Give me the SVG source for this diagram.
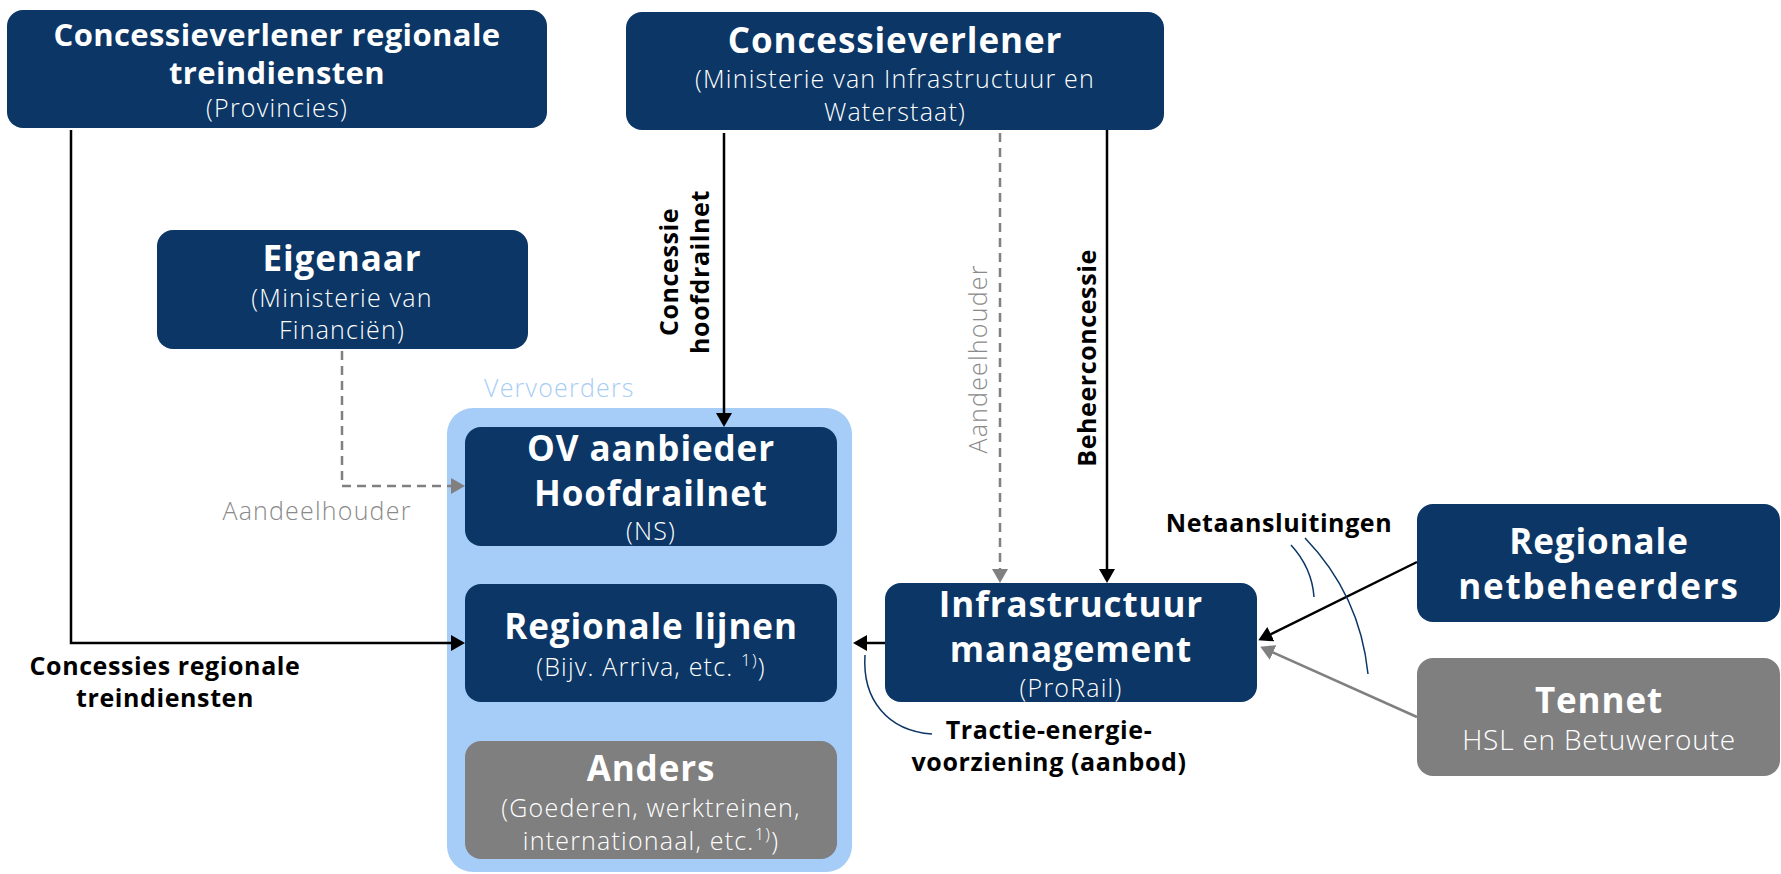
<svg xmlns="http://www.w3.org/2000/svg" width="1781" height="874" viewBox="0 0 1781 874">
  <style>
    text { font-family: 'Open Sans', 'Liberation Sans', sans-serif; }
    .navy { fill: #0b3665; }
    .grey { fill: #7f7f7f; }
    .t { fill: #ffffff; text-anchor: middle; font-weight: 700; font-size: 35px; letter-spacing: 0.9px; }
    .s { fill: #ffffff; text-anchor: middle; font-weight: 300; font-size: 25px; letter-spacing: 1.2px; }
    .lbl { fill: #000000; text-anchor: middle; font-weight: 700; font-size: 25px; letter-spacing: 0.6px; }
    .glbl { fill: #8a8a8a; text-anchor: middle; font-weight: 300; font-size: 25px; letter-spacing: 1.2px; }
    .ln { fill: none; stroke: #000000; stroke-width: 2.5; }
    .dash { fill: none; stroke: #808080; stroke-width: 2.5; stroke-dasharray: 9 6; }
    .gl { fill: none; stroke: #808080; stroke-width: 2.5; }
    .arc { fill: none; stroke: #0b3665; stroke-width: 1.5; }
  </style>
  <defs>
    <marker id="ah" viewBox="0 0 14 16" refX="11" refY="8" markerWidth="14" markerHeight="16" markerUnits="userSpaceOnUse" orient="auto">
      <path d="M0 0 L14 8 L0 16 Z" fill="#000000"/>
    </marker>
    <marker id="ahg" viewBox="0 0 14 16" refX="11" refY="8" markerWidth="14" markerHeight="16" markerUnits="userSpaceOnUse" orient="auto">
      <path d="M0 0 L14 8 L0 16 Z" fill="#808080"/>
    </marker>
  </defs>

  <!-- Vervoerders container -->
  <g id="vervoerders">
    <text x="484" y="397" style="fill:#a8cdf5;font-weight:300;font-size:25px;letter-spacing:1.2px">Vervoerders</text>
    <rect x="447" y="408" width="405" height="464" rx="26" fill="#a6cdf7"/>
  </g>

  <g id="concessieverlener-regionaal">
    <rect class="navy" x="7" y="10" width="540" height="118" rx="16"/>
    <text class="t" x="277" y="46" style="font-size:31px;letter-spacing:0.4px">Concessieverlener regionale</text>
    <text class="t" x="277" y="84" style="font-size:31px;letter-spacing:0.4px">treindiensten</text>
    <text class="s" x="277" y="117">(Provincies)</text>
  </g>

  <g id="concessieverlener">
    <rect class="navy" x="626" y="12" width="538" height="118" rx="16"/>
    <text class="t" x="895" y="53">Concessieverlener</text>
    <text class="s" x="895" y="88">(Ministerie van Infrastructuur en</text>
    <text class="s" x="895" y="121">Waterstaat)</text>
  </g>

  <g id="eigenaar">
    <rect class="navy" x="157" y="230" width="371" height="119" rx="16"/>
    <text class="t" x="342" y="271">Eigenaar</text>
    <text class="s" x="342" y="307">(Ministerie van</text>
    <text class="s" x="342" y="339">Financiën)</text>
  </g>

  <g id="ov-aanbieder">
    <rect class="navy" x="465" y="427" width="372" height="119" rx="16"/>
    <text class="t" x="651" y="461">OV aanbieder</text>
    <text class="t" x="651" y="506">Hoofdrailnet</text>
    <text class="s" x="651" y="540">(NS)</text>
  </g>

  <g id="regionale-lijnen">
    <rect class="navy" x="465" y="584" width="372" height="118" rx="16"/>
    <text class="t" x="651" y="639">Regionale lijnen</text>
    <text class="s" x="651" y="676">(Bijv. Arriva, etc. <tspan font-size="17" dy="-10">1)</tspan><tspan dy="10">)</tspan></text>
  </g>

  <g id="anders">
    <rect class="grey" x="465" y="741" width="372" height="118" rx="16"/>
    <text class="t" x="651" y="781">Anders</text>
    <text class="s" x="651" y="817">(Goederen, werktreinen,</text>
    <text class="s" x="651" y="850">internationaal, etc.<tspan font-size="17" dy="-10">1)</tspan><tspan dy="10">)</tspan></text>
  </g>

  <g id="infrastructuur-management">
    <rect class="navy" x="885" y="583" width="372" height="119" rx="16"/>
    <text class="t" x="1071" y="617">Infrastructuur</text>
    <text class="t" x="1071" y="662">management</text>
    <text class="s" x="1071" y="697">(ProRail)</text>
  </g>

  <g id="regionale-netbeheerders">
    <rect class="navy" x="1417" y="504" width="363" height="118" rx="16"/>
    <text class="t" x="1599" y="554">Regionale</text>
    <text class="t" x="1599" y="599" style="letter-spacing:1.8px">netbeheerders</text>
  </g>

  <g id="tennet">
    <rect class="grey" x="1417" y="658" width="363" height="118" rx="16"/>
    <text class="t" x="1599" y="713">Tennet</text>
    <text class="s" x="1599" y="750" style="font-size:28px;letter-spacing:0.8px">HSL en Betuweroute</text>
  </g>

  <g id="connectors">
    <!-- regional concessions -->
    <path class="ln" d="M71 130 V643 H462" marker-end="url(#ah)"/>
    <!-- main rail concession -->
    <path class="ln" d="M724 133 V424" marker-end="url(#ah)"/>
    <!-- shareholder links -->
    <path class="dash" d="M342 351 V486 H462" marker-end="url(#ahg)"/>
    <path class="dash" d="M1000 133 V580" marker-end="url(#ahg)"/>
    <!-- management concession -->
    <path class="ln" d="M1107 130 V580" marker-end="url(#ah)"/>
    <!-- traction energy -->
    <path class="ln" d="M885 643 H856" marker-end="url(#ah)"/>
    <path class="arc" d="M865 655 C862 700 888 731 932 734"/>
    <!-- grid connections -->
    <path class="ln" d="M1417 562 L1261 639" marker-end="url(#ah)"/>
    <path class="gl" d="M1417 717 L1263 648" marker-end="url(#ahg)"/>
    <path class="arc" d="M1291 545 Q1312 568 1314 597"/>
    <path class="arc" d="M1305 538 Q1360 595 1368 674"/>

    <!-- labels -->
    <text class="lbl" x="165" y="675">Concessies regionale</text>
    <text class="lbl" x="165" y="707">treindiensten</text>
    <text class="lbl" transform="translate(678,272) rotate(-90)">Concessie</text>
    <text class="lbl" transform="translate(709,272) rotate(-90)">hoofdrailnet</text>
    <text class="glbl" transform="translate(987,359) rotate(-90)">Aandeelhouder</text>
    <text class="lbl" transform="translate(1096,358) rotate(-90)">Beheerconcessie</text>
    <text class="glbl" x="317" y="520">Aandeelhouder</text>
    <text class="lbl" x="1279" y="532">Netaansluitingen</text>
    <text class="lbl" x="1049" y="739">Tractie-energie-</text>
    <text class="lbl" x="1049" y="771">voorziening (aanbod)</text>
  </g>
</svg>
